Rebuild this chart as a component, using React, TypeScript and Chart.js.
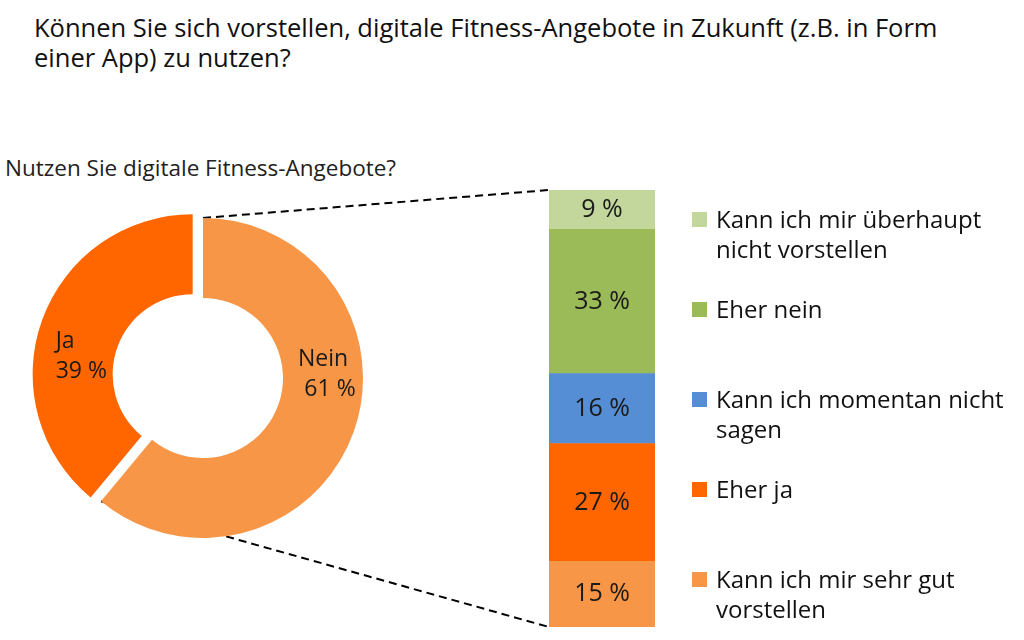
import React, { useEffect, useRef } from "react";
import { Chart, registerables } from "chart.js";

Chart.register(...registerables);

// ---- data ----
const titleLines = [
  "Können Sie sich vorstellen, digitale Fitness-Angebote in Zukunft (z.B. in Form",
  "einer App) zu nutzen?",
];
const donutTitle = "Nutzen Sie digitale Fitness-Angebote?";
const donutLabels = ["Nein", "Ja"];
const donutValues = [61, 39];
const donutColors = ["#F79646", "#FF6600"];
const donutExplode = [0, 11];

// stacked bar, bottom to top
const barLabels = [
  "Kann ich mir sehr gut\nvorstellen",
  "Eher ja",
  "Kann ich momentan nicht\nsagen",
  "Eher nein",
  "Kann ich mir überhaupt\nnicht vorstellen",
];
const barValues = [15, 27, 16, 33, 9];
const barColors = ["#F79646", "#FF6600", "#558ED5", "#9BBB59", "#C3D69B"];

// ---- layout / styles ----
const DONUT_BOX = { left: 20, top: 200, width: 366, height: 356 };
const BAR_BOX = { left: 549, top: 190, width: 106, height: 437 };
const TEXT_FONT = "'Open Sans', 'Noto Sans', sans-serif";
const LABEL_FONT = "'Open Sans', 'Noto Sans', sans-serif";
// per-slice label nudges
const LABEL_STYLE: any[] = [
  { dx: 0, dy: -4, dx2: 7, align: "center" },
  { dx: -17, dy: -18, dx2: 0, align: "left" },
];

const explodePlugin = {
  id: "explode",
  afterDatasetUpdate(chart: any, args: any) {
    const meta = chart.getDatasetMeta(args.index);
    meta.data.forEach((arc: any, i: number) => {
      const d = donutExplode[i] || 0;
      if (!d) return;
      const mid = (arc.startAngle + arc.endAngle) / 2;
      arc.x += Math.cos(mid) * d;
      arc.y += Math.sin(mid) * d;
    });
  },
  afterDatasetsDraw(chart: any) {
    const ctx = chart.ctx;
    const meta = chart.getDatasetMeta(0);
    ctx.save();
    ctx.font = "23px " + LABEL_FONT;
    ctx.fillStyle = "#1a1a1a";
    ctx.textBaseline = "middle";
    meta.data.forEach((arc: any, i: number) => {
      const st = LABEL_STYLE[i];
      const midR = (arc.innerRadius + arc.outerRadius) / 2;
      const mid = (arc.startAngle + arc.endAngle) / 2;
      const side = Math.cos(mid) >= 0 ? 1 : -1;
      const x = arc.x + side * midR + st.dx;
      const y = arc.y + st.dy;
      ctx.textAlign = st.align;
      ctx.fillText(donutLabels[i], x, y - 15);
      ctx.fillText(donutValues[i] + " %", x + st.dx2, y + 15);
    });
    ctx.restore();
  },
};

const barLabelPlugin = {
  id: "barLabels",
  afterDatasetsDraw(chart: any) {
    const ctx = chart.ctx;
    ctx.save();
    ctx.font = "25px " + TEXT_FONT;
    ctx.fillStyle = "#1a1a1a";
    ctx.textAlign = "center";
    ctx.textBaseline = "middle";
    chart.data.datasets.forEach((ds: any, i: number) => {
      const el = chart.getDatasetMeta(i).data[0];
      ctx.fillText(ds.data[0] + " %", el.x, (el.y + el.base) / 2);
    });
    ctx.restore();
  },
};

export default function App() {
  const donutRef = useRef<HTMLCanvasElement>(null);
  const barRef = useRef<HTMLCanvasElement>(null);
  const lineRef = useRef<HTMLCanvasElement>(null);

  useEffect(() => {
    let alive = true;
    const donut = new Chart(donutRef.current as HTMLCanvasElement, {
      type: "doughnut",
      data: {
        labels: donutLabels,
        datasets: [{ data: donutValues, backgroundColor: donutColors, borderWidth: 0 }],
      },
      options: {
        responsive: false,
        animation: false,
        cutout: "50%",
        layout: { padding: { left: 23, right: 23, top: 18, bottom: 18 } },
        plugins: { legend: { display: false }, tooltip: { enabled: false } },
      },
      plugins: [explodePlugin],
    } as any);

    const bar = new Chart(barRef.current as HTMLCanvasElement, {
      type: "bar",
      data: {
        labels: [""],
        datasets: barValues.map((v, i) => ({
          label: barLabels[i],
          data: [v],
          backgroundColor: barColors[i],
          borderWidth: 0,
          barPercentage: 1,
          categoryPercentage: 1,
        })),
      },
      options: {
        responsive: false,
        animation: false,
        scales: {
          x: { stacked: true, display: false },
          y: { stacked: true, display: false, min: 0, max: 100 },
        },
        plugins: { legend: { display: false }, tooltip: { enabled: false } },
      },
      plugins: [barLabelPlugin],
    } as any);

    const drawLines = () => {
      const c = lineRef.current;
      if (!c) return;
      const ctx = c.getContext("2d") as CanvasRenderingContext2D;
      ctx.clearRect(0, 0, c.width, c.height);
      const nein: any = donut.getDatasetMeta(0).data[0];
      const R = nein.outerRadius;
      const p1 = {
        x: DONUT_BOX.left + nein.x + Math.cos(nein.startAngle) * R,
        y: DONUT_BOX.top + nein.y + Math.sin(nein.startAngle) * R,
      };
      const p2 = {
        x: DONUT_BOX.left + nein.x + Math.cos(nein.endAngle) * R,
        y: DONUT_BOX.top + nein.y + Math.sin(nein.endAngle) * R,
      };
      const topBar: any = bar.getDatasetMeta(barValues.length - 1).data[0];
      const botBar: any = bar.getDatasetMeta(0).data[0];
      const q1 = { x: BAR_BOX.left + topBar.x - topBar.width / 2, y: BAR_BOX.top + topBar.y };
      const q2 = { x: BAR_BOX.left + botBar.x - botBar.width / 2, y: BAR_BOX.top + botBar.base };
      ctx.save();
      ctx.strokeStyle = "#000";
      ctx.lineWidth = 2;
      ctx.setLineDash([8, 5]);
      ctx.beginPath();
      ctx.moveTo(p1.x, p1.y);
      ctx.lineTo(q1.x, q1.y);
      ctx.moveTo(p2.x, p2.y);
      ctx.lineTo(q2.x, q2.y);
      ctx.stroke();
      ctx.restore();
    };
    drawLines();
    (document as any).fonts?.ready?.then(() => {
      if (!alive) return;
      donut.update();
      bar.update();
      drawLines();
    });
    return () => {
      alive = false;
      donut.destroy();
      bar.destroy();
    };
  }, []);

  const abs = (b: any): React.CSSProperties => ({
    position: "absolute",
    left: b.left,
    top: b.top,
    width: b.width,
    height: b.height,
  });

  const legendItems = barLabels.map((l, i) => ({ label: l, color: barColors[i] })).reverse();

  return (
    <div
      style={{
        position: "absolute",
        left: 0,
        top: 0,
        width: 1024,
        height: 640,
        background: "#fff",
        overflow: "hidden",
        color: "#111",
      }}
    >
      <div
        style={{
          position: "absolute",
          left: 34,
          top: 12,
          fontFamily: TEXT_FONT,
          fontSize: 25.5,
          lineHeight: "30px",
          whiteSpace: "nowrap",
        }}
      >
        {titleLines.map((t, i) => (
          <div key={i}>{t}</div>
        ))}
      </div>
      <div
        style={{
          position: "absolute",
          left: 5,
          top: 153,
          fontFamily: TEXT_FONT,
          fontSize: 22.5,
          lineHeight: "30px",
          whiteSpace: "nowrap",
          color: "#222",
        }}
      >
        {donutTitle}
      </div>
      <canvas ref={lineRef} width={1024} height={640} style={{ position: "absolute", left: 0, top: 0, width: 1024, height: 640 }} />
      <canvas ref={donutRef} width={DONUT_BOX.width} height={DONUT_BOX.height} style={abs(DONUT_BOX)} />
      <canvas ref={barRef} width={BAR_BOX.width} height={BAR_BOX.height} style={abs(BAR_BOX)} />
      {legendItems.map((it, i) => (
        <div
          key={i}
          style={{
            position: "absolute",
            left: 692,
            top: 204 + i * 90,
            fontFamily: TEXT_FONT,
            fontSize: 24,
            lineHeight: "30px",
            color: "#111",
          }}
        >
          <div
            style={{
              position: "absolute",
              left: 0,
              top: 8,
              width: 15,
              height: 15,
              background: it.color,
            }}
          />
          <div style={{ marginLeft: 24, whiteSpace: "nowrap" }}>
            {it.label.split("\n").map((s, j) => (
              <div key={j}>{s}</div>
            ))}
          </div>
        </div>
      ))}
    </div>
  );
}
